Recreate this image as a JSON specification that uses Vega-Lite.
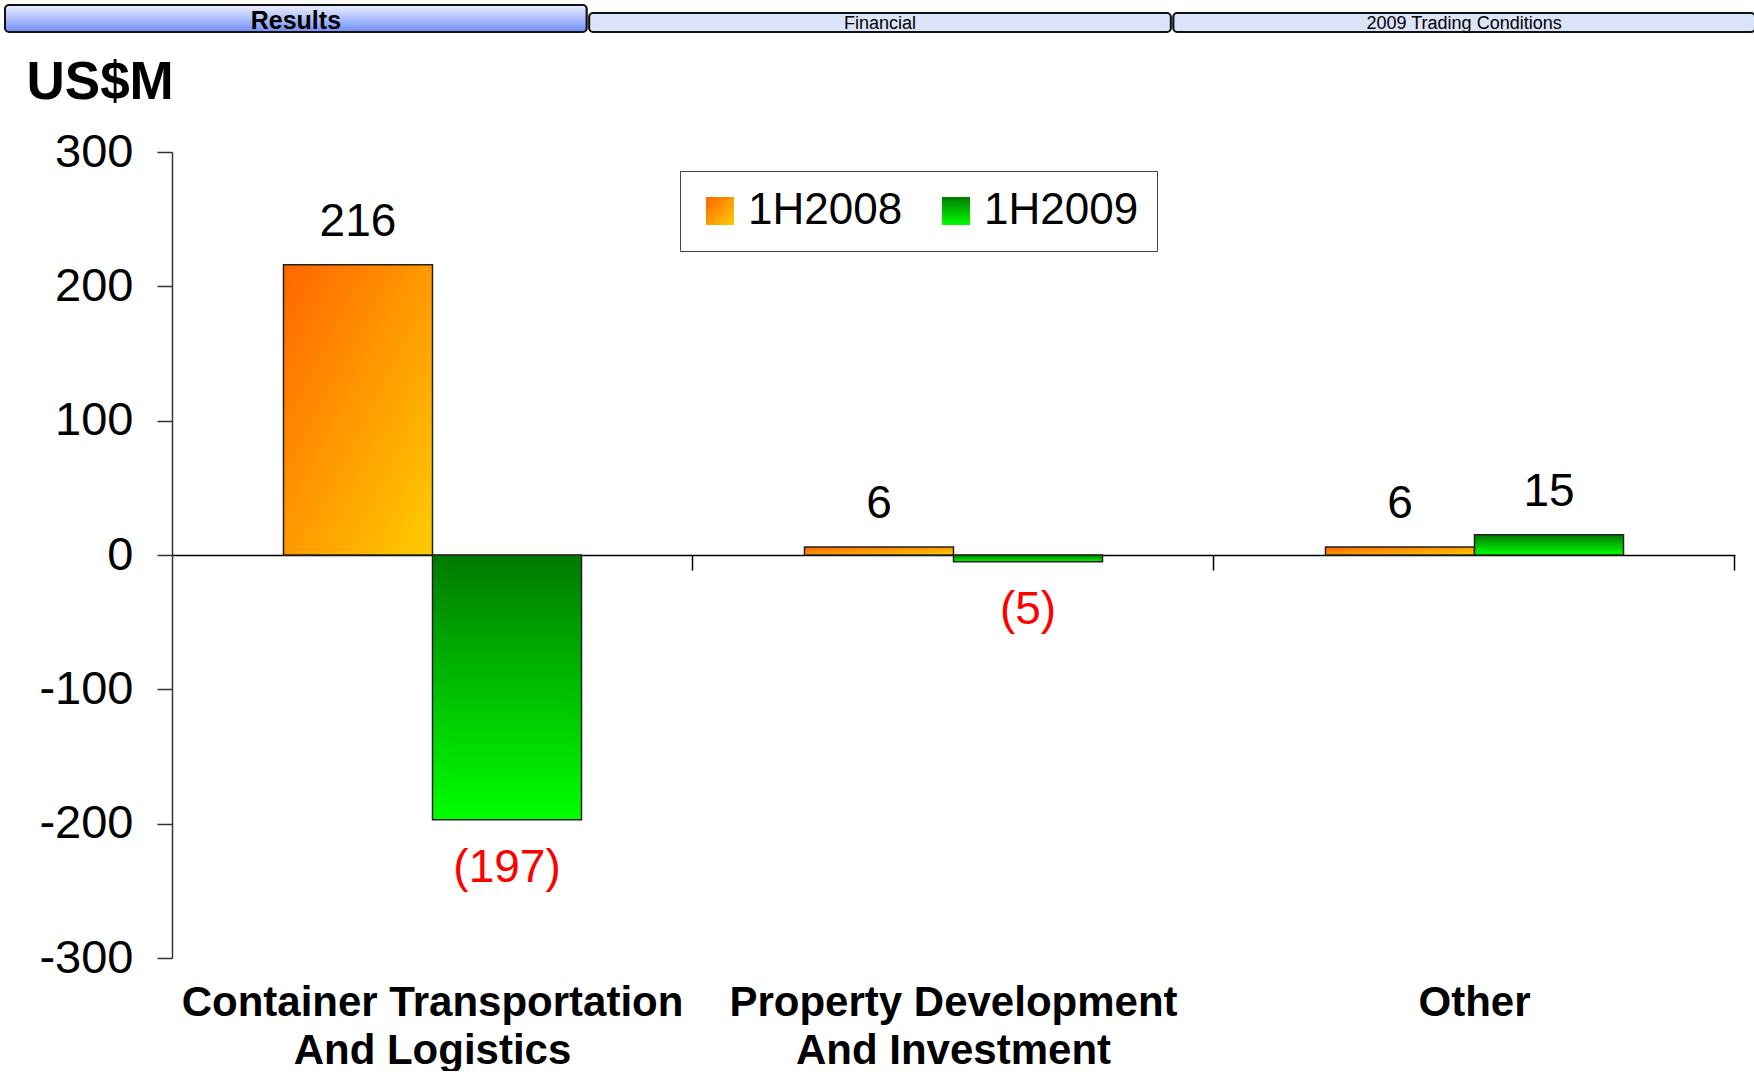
{
  "$schema": "https://vega.github.io/schema/vega-lite/v6.json",
  "background": "white",
  "padding": {"left": 4, "top": 4, "right": 0, "bottom": 0},
  "autosize": {"type": "pad"},
  "spacing": 22,
  "resolve": {"legend": {"opacity": "independent"}, "scale": {"opacity": "independent"}},
  "config": {
    "font": "Liberation Sans",
    "view": {"stroke": null}
  },
  "vconcat": [
    {
      "width": 1563,
      "height": 27,
      "data": {"values": [
        {"tab": "Results", "active": true, "level": 1},
        {"tab": "Financial", "active": false, "level": 0.7},
        {"tab": "2009 Trading Conditions", "active": false, "level": 0.7}
      ]},
      "encoding": {
        "x": {"field": "tab", "type": "nominal", "axis": null, "scale": {"domain": ["Results", "Financial", "2009 Trading Conditions"], "range": [-167, 1583], "paddingInner": 0.004, "paddingOuter": 0}}
      },
      "layer": [
        {
          "transform": [{"filter": "datum.active"}],
          "mark": {"type": "bar", "stroke": "#111", "strokeWidth": 2, "cornerRadius": 4, "clip": false,
            "fill": {"gradient": "linear", "x1": 0, "y1": 0, "x2": 0, "y2": 1, "stops": [{"offset": 0, "color": "#eef1ff"}, {"offset": 1, "color": "#6f8ef8"}]}},
          "encoding": {
            "y": {"field": "level", "type": "quantitative", "scale": {"domain": [0, 1]}, "axis": null}
          }
        },
        {
          "transform": [{"filter": "!datum.active"}],
          "mark": {"type": "bar", "stroke": "#111", "strokeWidth": 2, "cornerRadius": 4, "fill": "#dce4fa", "clip": false},
          "encoding": {
            "y": {"field": "level", "type": "quantitative", "axis": null}
          }
        },
        {
          "transform": [{"filter": "datum.active"}],
          "mark": {"type": "text", "fontWeight": "bold", "fontSize": 25, "baseline": "alphabetic", "dy": -3, "color": "#000"},
          "encoding": {
            "y": {"datum": 0, "type": "quantitative"},
            "text": {"field": "tab"}
          }
        },
        {
          "transform": [{"filter": "!datum.active"}],
          "mark": {"type": "text", "fontSize": 18, "baseline": "alphabetic", "dy": -3, "color": "#000"},
          "encoding": {
            "y": {"datum": 0, "type": "quantitative"},
            "text": {"field": "tab"}
          }
        }
      ]
    },
    {
      "width": 1563,
      "height": 806,
      "data": {"values": [
        {"category": "Container Transportation And Logistics", "series": "1H2008", "value": 216},
        {"category": "Container Transportation And Logistics", "series": "1H2009", "value": -197},
        {"category": "Property Development And Investment", "series": "1H2008", "value": 6},
        {"category": "Property Development And Investment", "series": "1H2009", "value": -5},
        {"category": "Other", "series": "1H2008", "value": 6},
        {"category": "Other", "series": "1H2009", "value": 15}
      ]},
      "resolve": {"axis": {"x": "independent"}},
      "layer": [
        {
          "mark": {"type": "bar",
            "fill": {"expr": "(datum.series || datum.value) === '1H2008' ? {gradient: 'linear', x1: 0, y1: 0, x2: 1, y2: 1, stops: [{offset: 0, color: '#ff6600'}, {offset: 1, color: '#ffcc00'}]} : {gradient: 'linear', x1: 0, y1: 0, x2: 0, y2: 1, stops: [{offset: 0, color: '#007a00'}, {offset: 1, color: '#00ff00'}]}"}},
          "encoding": {
            "x": {
              "field": "category", "type": "nominal",
              "scale": {"domain": ["Container Transportation And Logistics", "Property Development And Investment", "Other"], "paddingInner": 0.428, "paddingOuter": 0.214},
              "axis": {
                "title": null, "domain": false, "ticks": false,
                "labelFontSize": 42, "labelFontWeight": "bold", "labelColor": "#000",
                "labelAngle": 0, "labelBaseline": "top", "labelPadding": 24,
                "labelLineHeight": 48, "labelLimit": 0, "labelOverlap": false, "labelBound": false,
                "labelExpr": "datum.value === 'Container Transportation And Logistics' ? ['Container Transportation', 'And Logistics'] : datum.value === 'Property Development And Investment' ? ['Property Development', 'And Investment'] : datum.value"
              }
            },
            "xOffset": {"field": "series", "type": "nominal", "scale": {"domain": ["1H2008", "1H2009"], "paddingInner": 0, "paddingOuter": 0}},
            "y": {
              "field": "value", "type": "quantitative",
              "scale": {"domain": [-300, 300], "nice": false},
              "axis": {
                "values": [-300, -200, -100, 0, 100, 200, 300],
                "labelExpr": "'' + datum.value",
                "grid": false,
                "title": "US$M", "titleAngle": 0, "titleAlign": "left", "titleBaseline": "alphabetic",
                "titleX": -146, "titleY": -54, "titleFontSize": 53, "titleFontWeight": "bold", "titleColor": "#000",
                "labelFontSize": 47, "labelColor": "#000", "labelPadding": 24,
                "tickSize": 15, "tickColor": "#333", "domainColor": "#333", "domainWidth": 1.5, "tickWidth": 1.5
              }
            },
            "opacity": {
              "field": "series", "type": "ordinal",
              "scale": {"domain": ["1H2008", "1H2009"], "range": [1, 1]},
              "legend": {
                "orient": "none", "legendX": 508, "legendY": 19, "direction": "horizontal",
                "title": null, "fillColor": "white", "strokeColor": "#444", "padding": 18,
                "symbolType": "square", "symbolSize": 784, "labelFontSize": 44, "labelColor": "#000",
                "labelOffset": 6, "columnPadding": 31, "cornerRadius": 0, "symbolOpacity": 1,
                "symbolStrokeColor": "#222", "symbolStrokeWidth": 1.5
              }
            }
          }
        },
        {
          "transform": [{"filter": "datum.series === '1H2008'"}],
          "mark": {"type": "bar", "stroke": "#222", "strokeWidth": 1.5,
            "fill": {"gradient": "linear", "x1": 0, "y1": 0, "x2": 1, "y2": 1, "stops": [{"offset": 0, "color": "#ff6600"}, {"offset": 1, "color": "#ffcc00"}]}},
          "encoding": {
            "x": {
              "field": "category", "type": "nominal",
              "axis": {
                "title": null, "labels": false, "orient": "bottom", "offset": -403,
                "domain": true, "domainColor": "#000", "domainWidth": 1.5,
                "ticks": true, "bandPosition": 1.374, "tickSize": 15, "tickColor": "#000", "tickWidth": 1.5
              }
            },
            "xOffset": {"field": "series", "type": "nominal"},
            "y": {"field": "value", "type": "quantitative"}
          }
        },
        {
          "transform": [{"filter": "datum.series === '1H2009'"}],
          "mark": {"type": "bar", "stroke": "#222", "strokeWidth": 1.5,
            "fill": {"gradient": "linear", "x1": 0, "y1": 0, "x2": 0, "y2": 1, "stops": [{"offset": 0, "color": "#007a00"}, {"offset": 1, "color": "#00ff00"}]}},
          "encoding": {
            "x": {"field": "category", "type": "nominal", "axis": null},
            "xOffset": {"field": "series", "type": "nominal"},
            "y": {"field": "value", "type": "quantitative"}
          }
        },
        {
          "transform": [{"filter": "datum.value >= 0"}],
          "mark": {"type": "text", "baseline": "alphabetic", "dy": -29, "fontSize": 46, "color": "#000"},
          "encoding": {
            "x": {"field": "category", "type": "nominal", "axis": null},
            "xOffset": {"field": "series", "type": "nominal"},
            "y": {"field": "value", "type": "quantitative"},
            "text": {"field": "value", "type": "quantitative", "format": "(d"}
          }
        },
        {
          "transform": [{"filter": "datum.value < 0"}],
          "mark": {"type": "text", "baseline": "alphabetic", "dy": 62, "fontSize": 46, "color": "#ff0000"},
          "encoding": {
            "x": {"field": "category", "type": "nominal", "axis": null},
            "xOffset": {"field": "series", "type": "nominal"},
            "y": {"field": "value", "type": "quantitative"},
            "text": {"field": "value", "type": "quantitative", "format": "(d"}
          }
        }
      ]
    }
  ]
}
